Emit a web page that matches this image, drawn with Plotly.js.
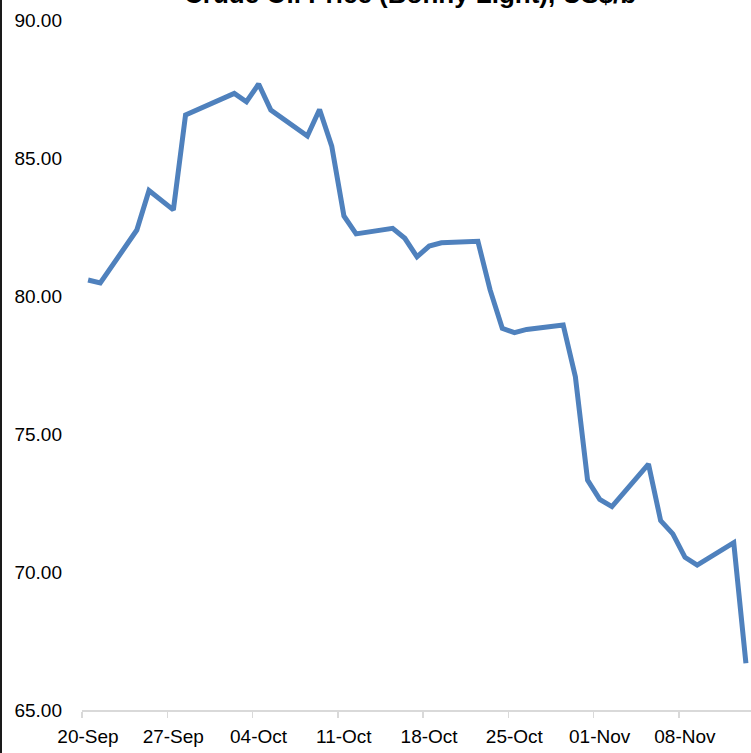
<!DOCTYPE html>
<html>
<head>
<meta charset="utf-8">
<script src="https://cdn.plot.ly/plotly-3.0.1.min.js"></script>
<style>
  html, body { margin: 0; padding: 0; background: #ffffff; }
  #chart { width: 751px; height: 753px; }
</style>
</head>
<body>
<div id="chart"></div>
<script>
// Bonny Light crude, daily price (US$ per barrel), trading days only
const tradeDates = [
  '2018-09-20', '2018-09-21', '2018-09-24', '2018-09-25', '2018-09-27', '2018-09-28',
  '2018-10-02', '2018-10-03', '2018-10-04', '2018-10-05', '2018-10-08', '2018-10-09',
  '2018-10-10', '2018-10-11', '2018-10-12', '2018-10-15', '2018-10-16', '2018-10-17',
  '2018-10-18', '2018-10-19', '2018-10-22', '2018-10-23', '2018-10-24', '2018-10-25',
  '2018-10-26', '2018-10-29', '2018-10-30', '2018-10-31', '2018-11-01', '2018-11-02',
  '2018-11-05', '2018-11-06', '2018-11-07', '2018-11-08', '2018-11-09', '2018-11-12',
  '2018-11-13'
];
const bonnyLight = [
  80.58, 80.47, 82.39, 83.82, 83.12, 86.56,
  87.34, 87.04, 87.68, 86.74, 85.80, 86.76,
  85.43, 82.90, 82.25, 82.45, 82.09, 81.42,
  81.81, 81.93, 81.98, 80.22, 78.83, 78.67,
  78.79, 78.95, 77.08, 73.33, 72.63, 72.37,
  73.91, 71.86, 71.38, 70.53, 70.25, 71.06,
  66.69
];

// Weekly axis labels
const weekDates = ['2018-09-20', '2018-09-27', '2018-10-04', '2018-10-11',
                   '2018-10-18', '2018-10-25', '2018-11-01', '2018-11-08'];
const weekLabels = ['20-Sep', '27-Sep', '04-Oct', '11-Oct',
                    '18-Oct', '25-Oct', '01-Nov', '08-Nov'];

const yTicks = [65, 70, 75, 80, 85, 90];
const yLabels = ['65.00', '70.00', '75.00', '80.00', '85.00', '90.00'];

const chartTitle = 'Crude Oil Price (Bonny Light), US$/b';

// tick marks sit on day boundaries, half a day before each labelled date
const halfDay = 12 * 3600 * 1000;
function shiftDate(s, ms) {
  const d = new Date(s + 'T00:00:00Z');
  const t = new Date(d.getTime() + ms);
  return t.toISOString().replace('T', ' ').slice(0, 19);
}
const weekTickVals = weekDates.map(d => shiftDate(d, -halfDay));

const tickFont = { family: '"Liberation Sans", Arial, sans-serif', size: 19, color: '#000000' };

const trace = {
  type: 'scatter',
  mode: 'lines',
  x: tradeDates,
  y: bonnyLight,
  line: { color: '#4F81BD', width: 5, shape: 'linear' },
  hoverinfo: 'x+y'
};

const layout = {
  width: 751,
  height: 753,
  margin: { l: 82, r: 0, t: 20, b: 43, pad: 0 },
  paper_bgcolor: '#ffffff',
  plot_bgcolor: '#ffffff',
  showlegend: false,
  xaxis: {
    type: 'date',
    range: [shiftDate('2018-09-20', -halfDay), '2018-11-13 10:00:00'],
    tickmode: 'array',
    tickvals: weekTickVals,
    ticktext: weekLabels,
    ticks: 'outside',
    ticklen: 6,
    tickwidth: 1.5,
    tickcolor: '#d9d9d9',
    ticklabelshift: 6,
    ticklabelstandoff: 3,
    showline: true,
    linecolor: '#d9d9d9',
    linewidth: 1.5,
    showgrid: false,
    zeroline: false,
    tickfont: tickFont,
    fixedrange: true
  },
  yaxis: {
    range: [65, 90],
    tickmode: 'array',
    tickvals: yTicks,
    ticktext: yLabels,
    ticks: '',
    ticklabelstandoff: 19,
    showline: false,
    showgrid: false,
    zeroline: false,
    tickfont: tickFont,
    fixedrange: true
  },
  annotations: [{
    text: '<b>' + chartTitle + '</b>',
    xref: 'paper', yref: 'paper',
    x: 0.49, y: 1.013,
    xanchor: 'center', yanchor: 'bottom',
    showarrow: false,
    font: { family: '"Liberation Sans", Arial, sans-serif', size: 26, color: '#000000' }
  }],
  shapes: [{
    // chart frame edge on the left
    type: 'line', xref: 'paper', yref: 'paper',
    x0: -81 / 669, x1: -81 / 669, y0: -0.1, y1: 1.1,
    line: { color: '#1a1a1a', width: 2 }
  }]
};

Plotly.newPlot('chart', [trace], layout, { displayModeBar: false, staticPlot: true });
</script>
</body>
</html>
